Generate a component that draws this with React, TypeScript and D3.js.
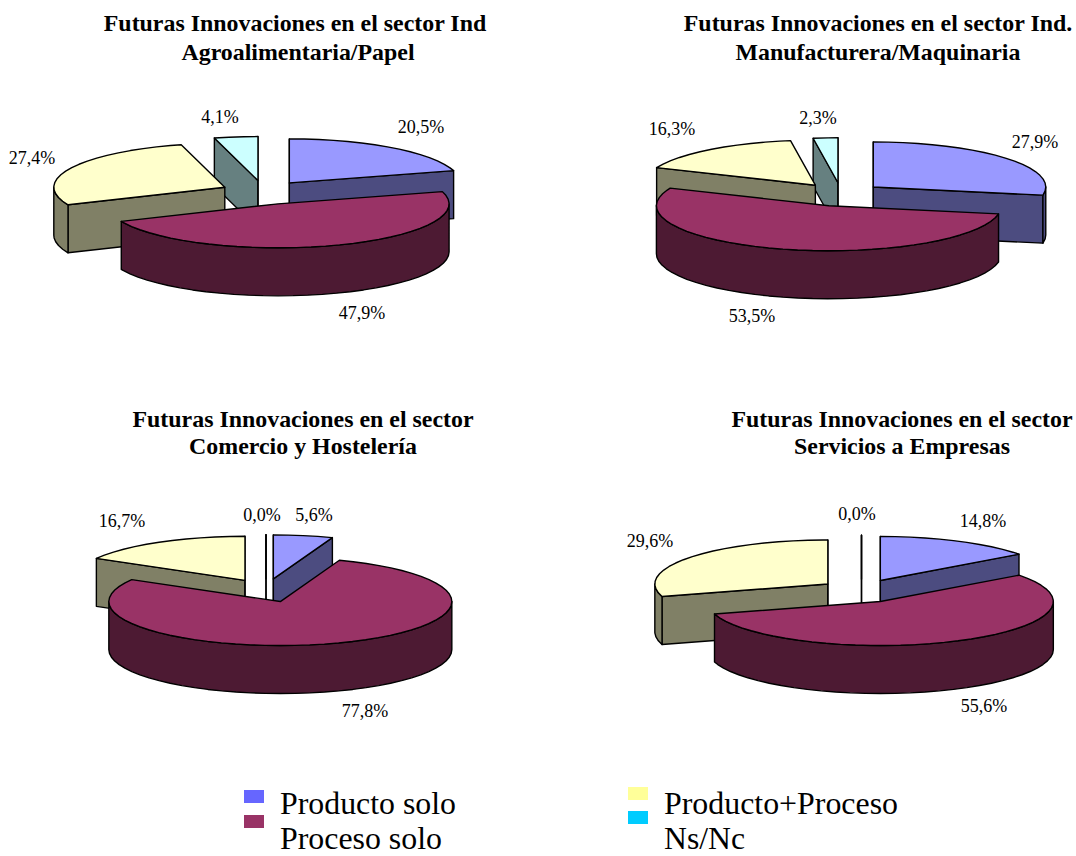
import React from "react";
import * as d3 from "d3";

// Survey shares per sector, in the order of the legend categories.
const categories = ["Producto solo", "Proceso solo", "Producto+Proceso", "Ns/Nc"];
const agroPapel = [20.5, 47.9, 27.4, 4.1];
const manufactura = [27.9, 53.5, 16.3, 2.3];
const comercio = [5.6, 77.8, 16.7, 0.0];
const servicios = [14.8, 55.6, 29.6, 0.0];

const titleAgro = ["Futuras Innovaciones en el sector Ind", "Agroalimentaria/Papel"];
const titleManu = ["Futuras Innovaciones en el sector Ind.", "Manufacturera/Maquinaria"];
const titleComercio = ["Futuras Innovaciones en el sector", "Comercio y Hostelería"];
const titleServicios = ["Futuras Innovaciones en el sector", "Servicios a Empresas"];

// Wedge colours: top face, shaded wall, legend swatch.
const topColors = ["#9999FF", "#993366", "#FFFFCC", "#CCFFFF"];
const wallColors = ["#4C4C80", "#4D1A33", "#808066", "#668080"];
const swatchColors = ["#6666FF", "#993366", "#FFFF99", "#00CCFF"];

// Geometry of each 3D pie and where its value labels sit.
const layouts = [
  { values: agroPapel, title: titleAgro, cx: 263.5, cy: 192.5, rx: 171, ry: 44, depth: 48, explode: 43, titleX: 295, titleX2: 298, titleY: [31, 60],
    labels: [[421, 133], [362, 319], [32, 164], [220, 123]] },
  { values: manufactura, title: titleManu, cx: 841, cy: 194.5, rx: 172.5, ry: 45, depth: 48, explode: 42, titleX: 878, titleX2: 878, titleY: [31, 60],
    labels: [[1035, 148], [752, 322], [672, 135], [818, 124]] },
  { values: comercio, title: titleComercio, cx: 266, cy: 590.5, rx: 171.5, ry: 44, depth: 48, explode: 42, titleX: 303, titleX2: 303, titleY: [427, 454],
    labels: [[314, 521], [365, 717], [122, 527], [262, 521]] },
  { values: servicios, title: titleServicios, cx: 861.5, cy: 591, rx: 173, ry: 44, depth: 48, explode: 42, titleX: 902, titleX2: 902, titleY: [427, 454],
    labels: [[983, 527], [984, 712], [650, 547], [857, 520]] },
];

const legendItems = [
  { index: 0, swatchX: 244, swatchY: 790, textX: 280, textY: 814, textW: 176 },
  { index: 1, swatchX: 244, swatchY: 815, textX: 280, textY: 849, textW: 162 },
  { index: 2, swatchX: 628, swatchY: 787, textX: 664, textY: 814, textW: 234 },
  { index: 3, swatchX: 628, swatchY: 811, textX: 664, textY: 849, textW: 81 },
];

const SERIF = "'Liberation Serif', serif";
const ARC_STEP = (5 * Math.PI) / 180;
const EXPLODE_TILT = 0.28;
const outline = d3.line();
const pieLayout = d3.pie<number>().sort(null).startAngle(0).endAngle(2 * Math.PI);
const formatShare = (v: number) => d3.format(".1f")(v).replace(".", ",") + "%";

type Pt = [number, number];

function arcSamples(a: number, b: number): number[] {
  const out = d3.range(a, b, ARC_STEP);
  out.push(b);
  return out;
}

function Wedge({ layout, start, end, colorIndex }: any) {
  const { cx, cy, rx, ry, depth, explode } = layout;
  const mid = (start + end) / 2;
  const ax = cx + explode * Math.sin(mid);
  const ay = cy - explode * EXPLODE_TILT * Math.cos(mid);
  const rim = (t: number): Pt => [ax + rx * Math.sin(t), ay - ry * Math.cos(t)];
  const drop = ([x, y]: Pt): Pt => [x, y + depth];
  const apex: Pt = [ax, ay];
  const wall = wallColors[colorIndex];
  const eps = 1e-6;

  // Only the cut faces turned towards the viewer are drawn.
  const faces: Pt[][] = [];
  if (Math.sin(start) < eps) faces.push([apex, rim(start), drop(rim(start)), drop(apex)]);
  if (Math.sin(end) > -eps) faces.push([apex, rim(end), drop(rim(end)), drop(apex)]);

  const frontA = Math.max(start, Math.PI / 2);
  const frontB = Math.min(end, (3 * Math.PI) / 2);
  let front: Pt[] | null = null;
  if (frontB > frontA) {
    const ts = arcSamples(frontA, frontB);
    front = [...ts.map(rim), ...ts.slice().reverse().map((t) => drop(rim(t)))];
  }
  const top: Pt[] = [apex, ...arcSamples(start, end).map(rim)];
  const stroke = { stroke: "#000", strokeWidth: 1.4, strokeLinejoin: "round" as const };
  return (
    <g>
      {faces.map((f, i) => (
        <path key={i} d={outline(f) + "Z"} fill={wall} {...stroke} />
      ))}
      {front && <path d={outline(front) + "Z"} fill={wall} {...stroke} />}
      <path d={outline(top) + "Z"} fill={topColors[colorIndex]} {...stroke} />
    </g>
  );
}

function Pie3D({ layout }: any) {
  const arcs = pieLayout(layout.values);
  // Painted back to front: Ns/Nc, Producto solo, Producto+Proceso, Proceso solo.
  const paintOrder = [3, 0, 2, 1];
  return (
    <g>
      {layout.title.map((line: string, i: number) => (
        <text key={i} x={i === 0 ? layout.titleX : layout.titleX2} y={layout.titleY[i]} textAnchor="middle" fontFamily={SERIF} fontWeight="bold" fontSize={23.9} fill="#000">
          {line}
        </text>
      ))}
      {paintOrder.map((i) => (
        <Wedge key={i} layout={layout} start={arcs[i].startAngle} end={arcs[i].endAngle} colorIndex={i} />
      ))}
      {layout.values.map((v: number, i: number) => (
        <text key={i} x={layout.labels[i][0]} y={layout.labels[i][1]} textAnchor="middle" fontFamily={SERIF} fontSize={18} fill="#000">
          {formatShare(v)}
        </text>
      ))}
    </g>
  );
}

export default function App() {
  return (
    <svg width={1076} height={856} viewBox="0 0 1076 856" style={{ position: "absolute", left: 0, top: 0, display: "block", background: "#fff" }}>
      {layouts.map((l, i) => (
        <Pie3D key={i} layout={l} />
      ))}
      {legendItems.map((d) => (
        <g key={d.index}>
          <rect x={d.swatchX} y={d.swatchY} width={20} height={13} fill={swatchColors[d.index]} />
          <text x={d.textX} y={d.textY} fontFamily={SERIF} fontSize={31} textLength={d.textW} lengthAdjust="spacingAndGlyphs" fill="#000">
            {categories[d.index]}
          </text>
        </g>
      ))}
    </svg>
  );
}
